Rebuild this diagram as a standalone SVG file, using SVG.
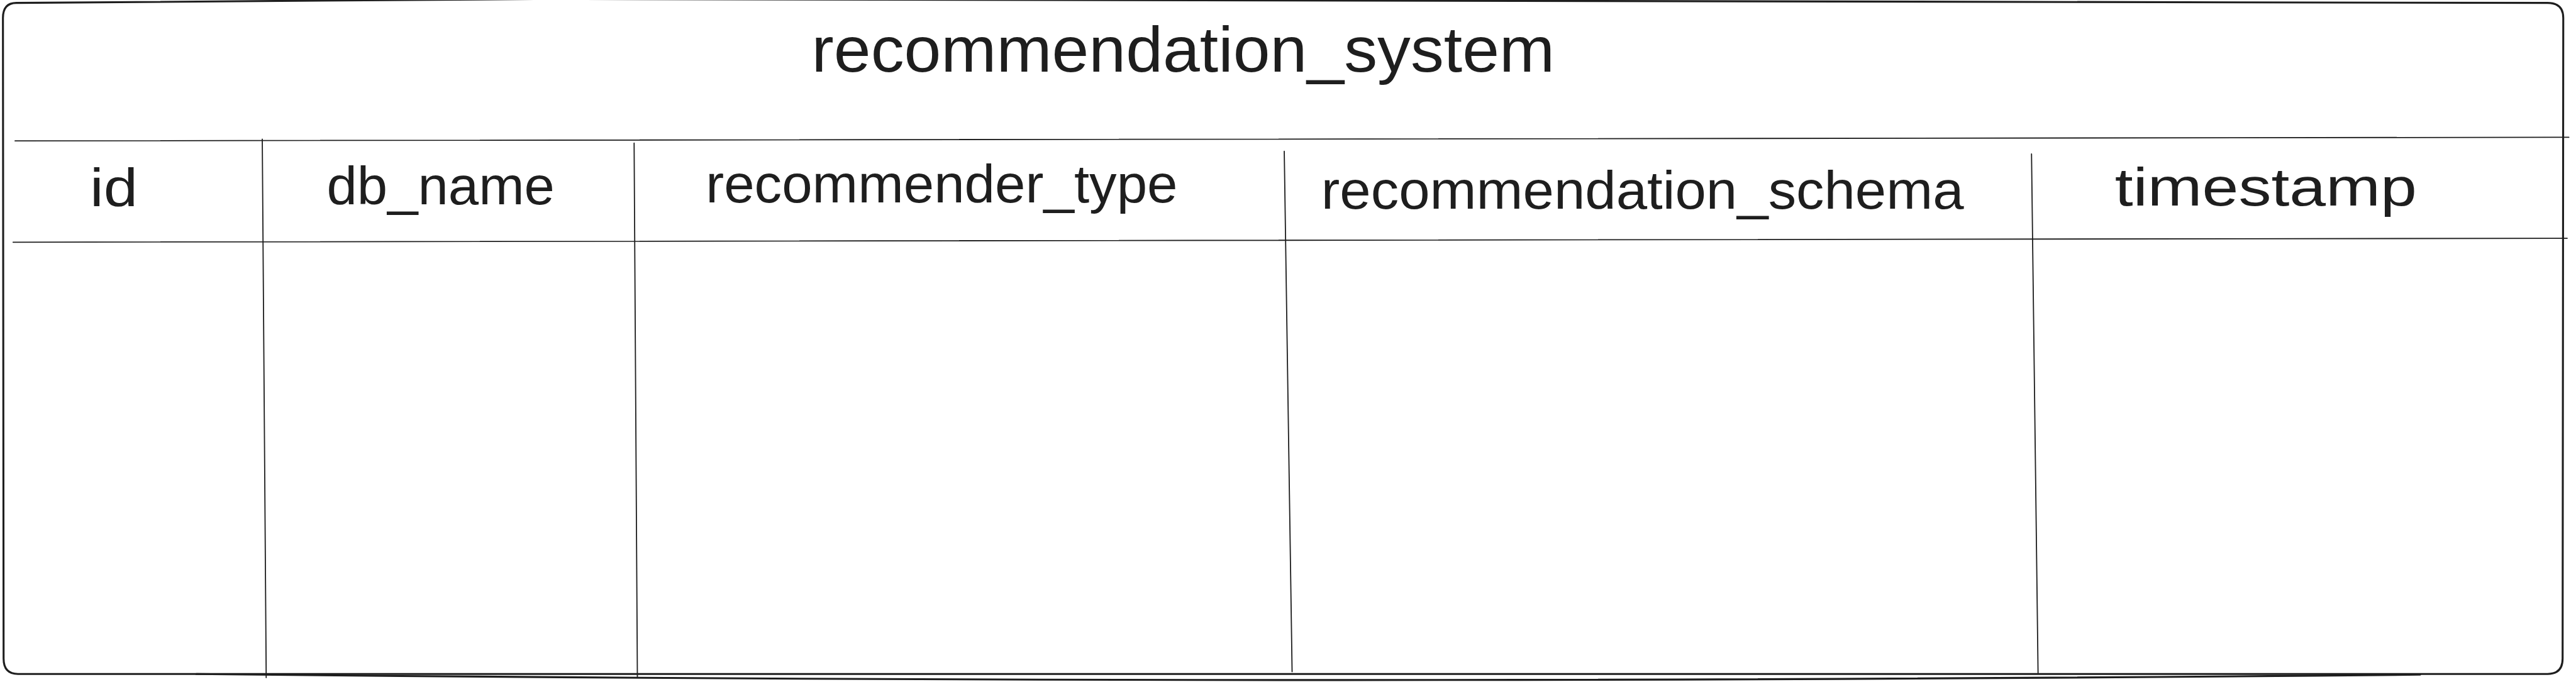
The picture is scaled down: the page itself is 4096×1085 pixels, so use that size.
<svg xmlns="http://www.w3.org/2000/svg" width="4096" height="1085" viewBox="0 0 4096 1085">
  <style>
    .frame { fill: none; stroke: #1e1e1e; stroke-width: 6; stroke-linecap: round; stroke-linejoin: round; }
    .grid { fill: none; stroke: #1e1e1e; stroke-width: 3.5; stroke-linecap: round; }
    .title { font-family: "Liberation Sans", "DejaVu Sans", sans-serif; font-size: 195px; fill: #1e1e1e; }
    .head { font-family: "Liberation Sans", "DejaVu Sans", sans-serif; font-size: 165px; fill: #1e1e1e; }
  </style>
  <rect x="0" y="0" width="4096" height="1085" fill="#ffffff"/>
  <g transform="scale(0.52)">
    <g id="table-frame">
      <path class="frame" d="M 50 9 C 2307 -12, 3339 -12, 7790 9 Q 7838 9 7838 55 L 7836 2015 Q 7836 2062 7790 2062 L 55 2062 Q 11 2062 11 2015 L 9 55 Q 9 9 50 9 Z"/>
      <path class="frame" d="M 600 2062 Q 4000 2098 7400 2064"/>
    </g>
    <g id="title">
      <text class="title" x="2482" y="220" textLength="2272" lengthAdjust="spacingAndGlyphs">recommendation_system</text>
    </g>
    <g id="grid-lines">
      <line class="grid" x1="46" y1="431" x2="7855" y2="420"/>
      <line class="grid" x1="40" y1="741" x2="7850" y2="729"/>
      <line class="grid" x1="802" y1="426" x2="814" y2="2073"/>
      <line class="grid" x1="1939" y1="438" x2="1949" y2="2073"/>
      <line class="grid" x1="3927" y1="463" x2="3951" y2="2055"/>
      <line class="grid" x1="6212" y1="471" x2="6232" y2="2058"/>
    </g>
    <g id="col-id">
      <text class="head" x="275" y="631" textLength="146" lengthAdjust="spacingAndGlyphs">id</text>
    </g>
    <g id="col-db_name">
      <text class="head" x="999" y="625" textLength="697" lengthAdjust="spacingAndGlyphs">db_name</text>
    </g>
    <g id="col-recommender_type">
      <text class="head" x="2158" y="620" textLength="1443" lengthAdjust="spacingAndGlyphs">recommender_type</text>
    </g>
    <g id="col-recommendation_schema">
      <text class="head" x="4040" y="638" textLength="1965" lengthAdjust="spacingAndGlyphs">recommendation_schema</text>
    </g>
    <g id="col-timestamp">
      <text class="head" x="6467" y="628" textLength="923" lengthAdjust="spacingAndGlyphs">timestamp</text>
    </g>
  </g>
</svg>
